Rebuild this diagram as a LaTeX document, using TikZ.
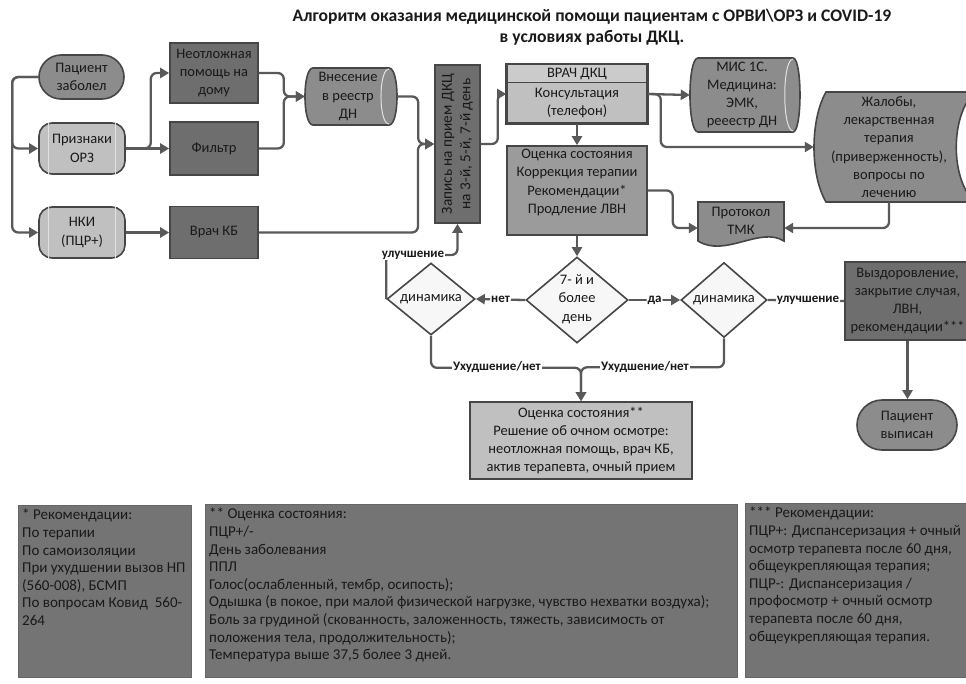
\documentclass[tikz,border=0pt]{standalone}
\usepackage{fontspec}
\setmainfont{Carlito}
\usetikzlibrary{arrows.meta,shapes.geometric,calc}
\definecolor{dk}{HTML}{6E6E6E}
\definecolor{md}{HTML}{8C8C8C}
\definecolor{lt}{HTML}{C0C0C0}
\definecolor{lh}{HTML}{CBCBCB}
\definecolor{oc}{HTML}{9B9B9B}
\definecolor{bd}{HTML}{464646}
\definecolor{ln}{HTML}{595959}
\definecolor{nt}{HTML}{747474}
\definecolor{inl}{HTML}{E2E2E2}
\begin{document}
\begin{tikzpicture}[x=1pt,y=-1pt,
  every node/.style={font=\fontsize{14.5}{18.3}\selectfont, align=center, inner sep=1pt, text=black!90},
  box/.style={rectangle, draw=bd, line width=1.6pt},
  ghost/.style={rectangle, draw=none, inner sep=0pt},
  shp/.style={draw=bd, line width=1.6pt},
  conn/.style={draw=ln, line width=2.3pt, rounded corners=6pt, -{Triangle[length=9pt,width=10pt]}},
  plain/.style={draw=ln, line width=2.3pt, rounded corners=6pt},
  lbl/.style={fill=white, font=\bfseries\fontsize{13}{16}\selectfont, inner sep=1pt},
  dia/.style={diamond, draw=bd, line width=1.6pt, fill=white!97!black, inner sep=0pt},
  notebox/.style={rectangle, draw=black!60, line width=0.8pt, fill=nt, anchor=north west, inner sep=0pt},
  notetext/.style={anchor=north west, align=left, inner sep=0pt, font=\fontsize{15}{17.6}\selectfont}
]
\useasboundingbox (0,0) rectangle (966,683);

% ---------- title
\node[font=\bfseries\fontsize{17.6}{20.5}\selectfont] (title) at (592,27)
  {Алгоритм оказания медицинской помощи пациентам с ОРВИ\textbackslash ОРЗ и COVID-19\\в условиях работы ДКЦ.};

% ---------- left column
\node[box, fill=md, rounded corners=22pt, minimum width=85, minimum height=44] (pz) at (81.5,77) {Пациент\\заболел};
\node[box, fill=lt, rounded corners=13pt, minimum width=86, minimum height=51] (orz) at (82,148.5) {Признаки\\ОРЗ};
\draw[inl, line width=1pt] ([xshift=10pt]orz.north west) -- ([xshift=10pt]orz.south west);
\draw[inl, line width=1pt] ([xshift=-10pt]orz.north east) -- ([xshift=-10pt]orz.south east);
\node[box, fill=lt, rounded corners=13pt, minimum width=86, minimum height=51] (nki) at (82,232.5) {НКИ\\(ПЦР+)};
\draw[inl, line width=1pt] ([xshift=10pt]nki.north west) -- ([xshift=10pt]nki.south west);
\draw[inl, line width=1pt] ([xshift=-10pt]nki.north east) -- ([xshift=-10pt]nki.south east);

\node[box, fill=dk, minimum width=88, minimum height=60] (neo) at (214,73) {Неотложная\\помощь на\\дому};
\node[box, fill=dk, minimum width=88, minimum height=53] (fil) at (214,148.5) {Фильтр};
\node[box, fill=dk, minimum width=88, minimum height=52] (vkb) at (214,232.5) {Врач КБ};

% ---------- Внесение (cylinder)
\path[shp, fill=md] (313,68) -- (389,68) .. controls (399.7,68) and (399.7,125) .. (389,125)
   -- (313,125) .. controls (302.3,125) and (302.3,68) .. (313,68) -- cycle;
\draw[inl, line width=1pt] (389,69) .. controls (378.3,69) and (378.3,124) .. (389,124);
\node[ghost, minimum width=92, minimum height=57] (vnes) at (351,96.5) {};
\node at (348,96.5) {Внесение\\в реестр\\ДН};

% ---------- Запись
\node[box, fill=dk, minimum width=45, minimum height=158] (zap) at (457.5,144) {};
\node[rotate=90, font=\fontsize{15.3}{18.5}\selectfont] at (zap.center) {Запись на прием ДКЦ\\на 3-й, 5-й, 7-й день};

% ---------- Врач ДКЦ
\node[box, fill=lt, minimum width=140, minimum height=58] (vrach) at (577,94) {};
\node[rectangle, draw=bd, line width=1.2pt, fill=lh, minimum width=140, minimum height=18, anchor=north] (vhead) at (vrach.north) {ВРАЧ ДКЦ};
\draw[bd, line width=1.6pt] (vrach.north west) rectangle (vrach.south east);
\node (kons) at (577,103) {Консультация\\(телефон)};

\node[box, fill=oc, minimum width=140, minimum height=89] (ocs) at (577,190.5) {};
\node[anchor=north] at (577,148) {Оценка состояния\\Коррекция терапии\\Рекомендации*\\Продление ЛВН};

% ---------- МИС (cylinder)
\path[shp, fill=md] (698,58) -- (793,58) .. controls (802.3,58) and (802.3,132) .. (793,132)
   -- (698,132) .. controls (687.3,132) and (687.3,58) .. (698,58) -- cycle;
\draw[inl, line width=1pt] (793,59) .. controls (782,59) and (782,131) .. (793,131);
\node[ghost, minimum width=110, minimum height=74] (mis) at (745,95) {};
\node at (742,95) {МИС 1С.\\Медицина:\\ЭМК,\\рееестр ДН};

% ---------- Жалобы
\path[shp, fill=md] (826,92) -- (975,92) .. controls (950,115) and (950,180) .. (975,202)
   -- (826,202) .. controls (810,175) and (810,120) .. (826,92) -- cycle;
\node[ghost, minimum width=150, minimum height=110] (zh) at (889,147) {};
\node at (889,147) {Жалобы,\\лекарственная\\терапия\\(приверженность),\\вопросы по\\лечению};

% ---------- Протокол ТМК
\path[shp, fill=md] (698,202) -- (784,202) -- (784,241) .. controls (760,226) and (725,258) .. (698,241) -- cycle;
\node[ghost, minimum width=86, minimum height=52] (pr) at (741,228) {};
\node at (741,221) {Протокол\\ТМК};

% ---------- diamonds
\node[dia, minimum width=102, minimum height=86] (d7) at (577,300) {};
\node at (577,299) {7- й и\\более\\день};
\node[dia, minimum width=88, minimum height=72] (dl) at (431,299) {};
\node at (431,299) {динамика};
\node[dia, minimum width=86, minimum height=75] (dr) at (724,300) {};
\node at (724,300) {динамика};

% ---------- right
\node[box, fill=dk, minimum width=125, minimum height=78] (vz) at (907.5,301) {Выздоровление,\\закрытие случая,\\ЛВН,\\рекомендации***};
\node[box, fill=md, rounded corners=25pt, minimum width=100, minimum height=50] (pv) at (907,425) {Пациент\\выписан};

% ---------- bottom center
\node[box, fill=lt, minimum width=222, minimum height=77] (oc2) at (581,440.5) {Оценка состояния**\\Решение об очном осмотре:\\неотложная помощь, врач КБ,\\актив терапевта, очный прием};

% ---------- connectors
\draw[conn] (pz.west) -- ++(-26,0) |- (orz.west);
\draw[conn] (pz.west) -- ++(-26,0) |- (nki.west);
\draw[conn] (orz.east) -- (fil.west);
\draw[conn] (orz.east) -- ++(25,0) |- (neo.west);
\draw[conn] (nki.east) -- (vkb.west);
\draw[conn] (neo.east) -- ++(25,0) |- (vnes.west);
\draw[conn] (fil.east) -- ++(25,0) |- (vnes.west);
\draw[conn] (vnes.east) -- ++(21,0) |- (zap.west);
\draw[conn] (vkb.east) -- (418,232.5) |- (zap.west);
\draw[conn] (zap.east) -- ++(17,0) |- (vrach.west);
\draw[conn] (vrach.east) -- (mis.west);
\draw[conn] (vrach.east) -- ++(13,0) |- (zh.west);
\draw[conn] (vrach.south) -- (ocs.north);
\draw[conn] (ocs.east) -- ++(25,0) |- (pr.west);
\draw[conn] (zh.south) |- (pr.east);
\draw[conn] (ocs.south) -- (d7.north);
\draw[conn] (d7.west) -- node[lbl]{нет} (dl.east);
\draw[conn] (d7.east) -- node[lbl]{да} (dr.west);
\draw[conn] (dl.west) -- ++(0,-44) -| (zap.south);
\node[lbl] (lu) at (413,255) {улучшение};
\draw[plain] (dr.east) -- node[lbl, xshift=2pt]{улучшение} (vz.west);
\draw[conn] (dl.south) -- ++(0,32) -| (oc2.north);
\draw[conn] (dr.south) -- ++(0,29) -| (oc2.north);
\node[lbl] (u1) at (497,367) {Ухудшение/нет};
\node[lbl] (u2) at (645,367) {Ухудшение/нет};
\draw[conn] (vz.south) -- (vz.south |- pv.north);

% ---------- notes
\node[notebox, minimum width=173, minimum height=172] (n1) at (18,505) {};
\node[notetext] (t1) at ([xshift=4pt,yshift=-4pt]n1.north west)
  {* Рекомендации:\\По терапии\\По самоизоляции\\При ухудшении вызов НП\\(560-008), БСМП\\По вопросам Ковид\ \ 560-\\264};
\node[notebox, minimum width=532, minimum height=173] (n2) at (205,504) {};
\node[notetext] (t2) at ([xshift=4pt,yshift=-4pt]n2.north west)
  {** Оценка состояния:\\ПЦР+/-\\День заболевания\\ППЛ\\Голос(ослабленный, тембр, осипость);\\Одышка (в покое, при малой физической нагрузке, чувство нехватки воздуха);\\Боль за грудиной (скованность, заложенность, тяжесть, зависимость от\\положения тела, продолжительность);\\Температура выше 37,5 более 3 дней.};
\node[notebox, minimum width=225, minimum height=174] (n3) at (745,503) {};
\node[notetext] (t3) at ([xshift=4pt,yshift=-4pt]n3.north west)
  {*** Рекомендации:\\ПЦР+: Диспансеризация + очный\\осмотр терапевта после 60 дня,\\общеукрепляющая терапия;\\ПЦР-: Диспансеризация /\\профосмотр + очный осмотр\\терапевта после 60 дня,\\общеукрепляющая терапия.};
\end{tikzpicture}
\end{document}
